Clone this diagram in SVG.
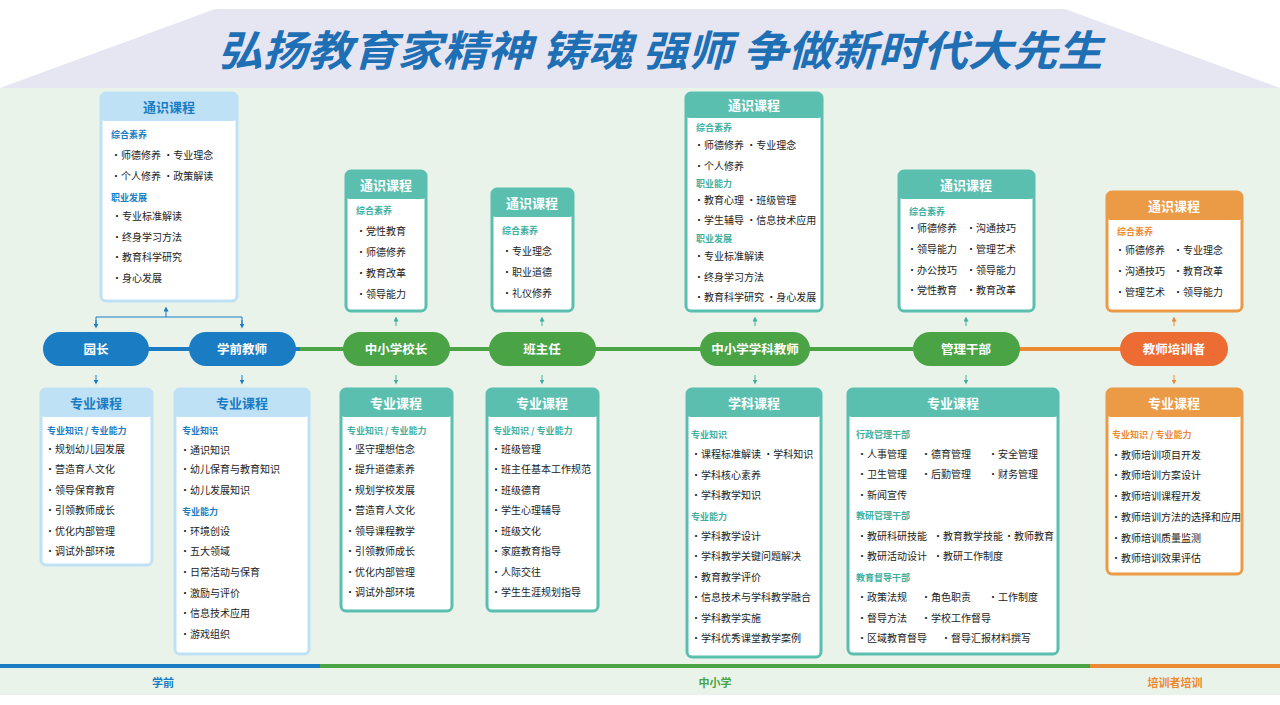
<svg xmlns="http://www.w3.org/2000/svg" width="1280" height="705" viewBox="0 0 1280 705">
<style>
text{font-family:"Noto Sans CJK SC","Noto Sans",sans-serif}
.t{font-size:10px;fill:#222}
.s{font-size:9px;font-weight:bold}
.h{font-size:13px;font-weight:bold;text-anchor:middle;fill:#fff}
.p{font-size:12.5px;font-weight:bold;text-anchor:middle;fill:#fff}
.b .s{fill:#1a7dc4}.g .s{fill:#3fb0a0}.o .s{fill:#ec8a33}
.b .h{fill:#1a7dc4}
.cb{stroke:#bfe1f5;fill:#fff;stroke-width:3}.hb{fill:#bfe1f5}
.cg{stroke:#5bbfb0;fill:#fff;stroke-width:3}.hg{fill:#5bbfb0}
.co{stroke:#eb9a45;fill:#fff;stroke-width:3}.ho{fill:#eb9a45}
.ar{stroke-width:1;fill:none}
</style>
<defs>
<marker id="mb" viewBox="0 0 6 6" refX="3" refY="3" markerWidth="5" markerHeight="5" orient="auto"><path d="M0,0L6,3L0,6z" fill="#1a7dc4"/></marker>
<marker id="mg" viewBox="0 0 6 6" refX="3" refY="3" markerWidth="5" markerHeight="5" orient="auto"><path d="M0,0L6,3L0,6z" fill="#3fb0a0"/></marker>
<marker id="mo" viewBox="0 0 6 6" refX="3" refY="3" markerWidth="5" markerHeight="5" orient="auto"><path d="M0,0L6,3L0,6z" fill="#ec8a33"/></marker>
</defs>
<rect width="1280" height="705" fill="#fff"/>
<rect y="88" width="1280" height="607" fill="#e9f3ea"/>
<path d="M0,88L215,9H1065L1280,88Z" fill="#e6e6f3"/>
<text x="660" y="66" font-size="42" font-weight="bold" font-style="italic" fill="#1f6fb5" text-anchor="middle" textLength="885" lengthAdjust="spacingAndGlyphs">弘扬教育家精神  铸魂 强师  争做新时代大先生</text>
<g id="bottom">
<rect x="0" y="664" width="320" height="4" fill="#1a7dc4"/>
<rect x="320" y="664" width="770" height="4" fill="#4aa345"/>
<rect x="1090" y="664" width="190" height="4" fill="#ec8a33"/>
<text x="163" y="687" font-size="11" font-weight="bold" fill="#1a7dc4" text-anchor="middle">学前</text>
<text x="715" y="687" font-size="11" font-weight="bold" fill="#4aa345" text-anchor="middle">中小学</text>
<text x="1175" y="687" font-size="11" font-weight="bold" fill="#ec8a33" text-anchor="middle">培训者培训</text>
</g>
<g id="connectors">
<line x1="96" y1="349" x2="300" y2="349" stroke="#1a7dc4" stroke-width="4"/>
<line x1="300" y1="349" x2="1020" y2="349" stroke="#4aa345" stroke-width="4"/>
<line x1="1020" y1="349" x2="1174" y2="349" stroke="#ec8a33" stroke-width="4"/>
<g class="ar" stroke="#1a7dc4">
<path d="M166,317V309" marker-end="url(#mb)"/>
<path d="M96,325V317H242V325" />
<path d="M96,320V326" marker-end="url(#mb)"/><path d="M242,320V326" marker-end="url(#mb)"/>
<path d="M96,375V382" marker-end="url(#mb)"/><path d="M242,375V382" marker-end="url(#mb)"/>
</g>
<g class="ar" stroke="#3fb0a0">
<path d="M396,326V319" marker-end="url(#mg)"/><path d="M542,326V319" marker-end="url(#mg)"/><path d="M755,326V319" marker-end="url(#mg)"/><path d="M966,326V319" marker-end="url(#mg)"/>
<path d="M396,375V382" marker-end="url(#mg)"/><path d="M542,375V382" marker-end="url(#mg)"/><path d="M755,375V382" marker-end="url(#mg)"/><path d="M966,375V382" marker-end="url(#mg)"/>
</g>
<g class="ar" stroke="#ec8a33">
<path d="M1174,326V319" marker-end="url(#mo)"/><path d="M1174,375V382" marker-end="url(#mo)"/>
</g>
</g>
<g id="pills">
<g id="n-yz"><rect x="43" y="332" width="106" height="34" rx="17" fill="#1a7dc4"/><text class="p" x="96" y="354">园长</text></g>
<g id="n-xq"><rect x="189" y="332" width="107" height="34" rx="17" fill="#1a7dc4"/><text class="p" x="242" y="354">学前教师</text></g>
<g id="n-xz"><rect x="343" y="332" width="107" height="34" rx="17" fill="#4aa345"/><text class="p" x="396" y="354">中小学校长</text></g>
<g id="n-bzr"><rect x="489" y="332" width="107" height="34" rx="17" fill="#4aa345"/><text class="p" x="542" y="354">班主任</text></g>
<g id="n-xk"><rect x="700" y="332" width="110" height="34" rx="17" fill="#4aa345"/><text class="p" x="755" y="354">中小学学科教师</text></g>
<g id="n-gl"><rect x="913" y="332" width="107" height="34" rx="17" fill="#4aa345"/><text class="p" x="966" y="354">管理干部</text></g>
<g id="n-px"><rect x="1120" y="332" width="108" height="34" rx="17" fill="#ec6c33"/><text class="p" x="1174" y="354">教师培训者</text></g>
</g>
<g id="box1" class="b"><rect class="cb" x="101" y="93" width="136" height="208" rx="5"/><rect class="hb" x="101" y="93" width="136" height="28" rx="4"/>
<text class="h" x="169" y="112">通识课程</text>
<text class="s" x="111" y="138">综合素养</text>
<text class="t" x="111" y="159">•师德修养   •专业理念</text>
<text class="t" x="111" y="180">•个人修养   •政策解读</text>
<text class="s" x="111" y="201">职业发展</text>
<text class="t" x="112" y="220">•专业标准解读</text>
<text class="t" x="112" y="241">•终身学习方法</text>
<text class="t" x="112" y="261">•教育科学研究</text>
<text class="t" x="112" y="282">•身心发展</text></g>
<g id="box2" class="g"><rect class="cg" x="346" y="171" width="80" height="140" rx="5"/><rect class="hg" x="346" y="171" width="80" height="28" rx="4"/>
<text class="h" x="386" y="190">通识课程</text>
<text class="s" x="356" y="214">综合素养</text>
<text class="t" x="356" y="235">•党性教育</text><text class="t" x="356" y="256">•师德修养</text><text class="t" x="356" y="277">•教育改革</text><text class="t" x="356" y="298">•领导能力</text></g>
<g id="box3" class="g"><rect class="cg" x="492" y="189" width="81" height="122" rx="5"/><rect class="hg" x="492" y="189" width="81" height="28" rx="4"/>
<text class="h" x="532" y="208">通识课程</text>
<text class="s" x="502" y="234">综合素养</text>
<text class="t" x="502" y="255">•专业理念</text><text class="t" x="502" y="276">•职业道德</text><text class="t" x="502" y="297">•礼仪修养</text></g>
<g id="box4" class="g"><rect class="cg" x="686" y="93" width="136" height="218" rx="5"/><rect class="hg" x="686" y="93" width="136" height="25" rx="4"/>
<text class="h" x="754" y="110">通识课程</text>
<text class="s" x="696" y="131">综合素养</text>
<text class="t" x="694" y="149">•师德修养    •专业理念</text>
<text class="t" x="694" y="170">•个人修养</text>
<text class="s" x="696" y="187">职业能力</text>
<text class="t" x="694" y="204">•教育心理    •班级管理</text>
<text class="t" x="694" y="224">•学生辅导    •信息技术应用</text>
<text class="s" x="696" y="242">职业发展</text>
<text class="t" x="694" y="260">•专业标准解读</text>
<text class="t" x="694" y="281">•终身学习方法</text>
<text class="t" x="694" y="301">•教育科学研究    •身心发展</text></g>
<g id="box5" class="g"><rect class="cg" x="899" y="171" width="135" height="140" rx="5"/><rect class="hg" x="899" y="171" width="135" height="28" rx="4"/>
<text class="h" x="966" y="190">通识课程</text>
<text class="s" x="909" y="215">综合素养</text>
<text class="t" x="907" y="232">•师德修养</text><text class="t" x="966" y="232">•沟通技巧</text>
<text class="t" x="907" y="253">•领导能力</text><text class="t" x="966" y="253">•管理艺术</text>
<text class="t" x="907" y="274">•办公技巧</text><text class="t" x="966" y="274">•领导能力</text>
<text class="t" x="907" y="294">•党性教育</text><text class="t" x="966" y="294">•教育改革</text></g>
<g id="box6" class="o"><rect class="co" x="1107" y="192" width="135" height="119" rx="5"/><rect class="ho" x="1107" y="192" width="135" height="28" rx="4"/>
<text class="h" x="1174" y="211">通识课程</text>
<text class="s" x="1117" y="235">综合素养</text>
<text class="t" x="1115" y="254">•师德修养</text><text class="t" x="1173" y="254">•专业理念</text>
<text class="t" x="1115" y="275">•沟通技巧</text><text class="t" x="1173" y="275">•教育改革</text>
<text class="t" x="1115" y="296">•管理艺术</text><text class="t" x="1173" y="296">•领导能力</text></g>
<g id="box7" class="b"><rect class="cb" x="41" y="389" width="111" height="176" rx="5"/><rect class="hb" x="41" y="389" width="111" height="28" rx="4"/>
<text class="h" x="96" y="408">专业课程</text>
<text class="s" x="47" y="434">专业知识 / 专业能力</text>
<text class="t" x="45" y="453">•规划幼儿园发展</text><text class="t" x="45" y="473">•营造育人文化</text><text class="t" x="45" y="494">•领导保育教育</text><text class="t" x="45" y="514">•引领教师成长</text><text class="t" x="45" y="535">•优化内部管理</text><text class="t" x="45" y="555">•调试外部环境</text></g>
<g id="box8" class="b"><rect class="cb" x="175" y="389" width="134" height="265" rx="5"/><rect class="hb" x="175" y="389" width="134" height="28" rx="4"/>
<text class="h" x="242" y="408">专业课程</text>
<text class="s" x="182" y="434">专业知识</text>
<text class="t" x="180" y="454">•通识知识</text><text class="t" x="180" y="473">•幼儿保育与教育知识</text><text class="t" x="180" y="494">•幼儿发展知识</text>
<text class="s" x="182" y="515">专业能力</text>
<text class="t" x="180" y="535">•环境创设</text><text class="t" x="180" y="555">•五大领域</text><text class="t" x="180" y="576">•日常活动与保育</text><text class="t" x="180" y="597">•激励与评价</text><text class="t" x="180" y="617">•信息技术应用</text><text class="t" x="180" y="638">•游戏组织</text></g>
<g id="box9" class="g"><rect class="cg" x="341" y="389" width="111" height="222" rx="5"/><rect class="hg" x="341" y="389" width="111" height="28" rx="4"/>
<text class="h" x="396" y="408">专业课程</text>
<text class="s" x="347" y="434">专业知识 / 专业能力</text>
<text class="t" x="345" y="453">•坚守理想信念</text><text class="t" x="345" y="473">•提升道德素养</text><text class="t" x="345" y="494">•规划学校发展</text><text class="t" x="345" y="514">•营造育人文化</text><text class="t" x="345" y="535">•领导课程教学</text><text class="t" x="345" y="555">•引领教师成长</text><text class="t" x="345" y="576">•优化内部管理</text><text class="t" x="345" y="596">•调试外部环境</text></g>
<g id="box10" class="g"><rect class="cg" x="487" y="389" width="111" height="222" rx="5"/><rect class="hg" x="487" y="389" width="111" height="28" rx="4"/>
<text class="h" x="542" y="408">专业课程</text>
<text class="s" x="493" y="434">专业知识 / 专业能力</text>
<text class="t" x="491" y="453">•班级管理</text><text class="t" x="491" y="473">•班主任基本工作规范</text><text class="t" x="491" y="494">•班级德育</text><text class="t" x="491" y="514">•学生心理辅导</text><text class="t" x="491" y="535">•班级文化</text><text class="t" x="491" y="555">•家庭教育指导</text><text class="t" x="491" y="576">•人际交往</text><text class="t" x="491" y="596">•学生生涯规划指导</text></g>
<g id="box11" class="g"><rect class="cg" x="687" y="389" width="134" height="268" rx="5"/><rect class="hg" x="687" y="389" width="134" height="28" rx="4"/>
<text class="h" x="754" y="408">学科课程</text>
<text class="s" x="691" y="438">专业知识</text>
<text class="t" x="691" y="458">•课程标准解读    •学科知识</text><text class="t" x="691" y="479">•学科核心素养</text><text class="t" x="691" y="499">•学科教学知识</text>
<text class="s" x="691" y="520">专业能力</text>
<text class="t" x="691" y="540">•学科教学设计</text><text class="t" x="691" y="560">•学科教学关键问题解决</text><text class="t" x="691" y="581">•教育教学评价</text><text class="t" x="691" y="601">•信息技术与学科教学融合</text><text class="t" x="691" y="622">•学科教学实施</text><text class="t" x="691" y="642">•学科优秀课堂教学案例</text></g>
<g id="box12" class="g"><rect class="cg" x="848" y="389" width="210" height="265" rx="5"/><rect class="hg" x="848" y="389" width="210" height="28" rx="4"/>
<text class="h" x="953" y="408">专业课程</text>
<text class="s" x="856" y="438">行政管理干部</text>
<text class="t" x="857" y="458">•人事管理</text><text class="t" x="921" y="458">•德育管理</text><text class="t" x="988" y="458">•安全管理</text>
<text class="t" x="857" y="478">•卫生管理</text><text class="t" x="921" y="478">•后勤管理</text><text class="t" x="988" y="478">•财务管理</text>
<text class="t" x="857" y="499">•新闻宣传</text>
<text class="s" x="856" y="519">教研管理干部</text>
<text class="t" x="857" y="540">•教研科研技能</text><text class="t" x="933" y="540">•教育教学技能</text><text class="t" x="1004" y="540">•教师教育</text>
<text class="t" x="857" y="560">•教研活动设计</text><text class="t" x="933" y="560">•教研工作制度</text>
<text class="s" x="856" y="581">教育督导干部</text>
<text class="t" x="857" y="601">•政策法规</text><text class="t" x="921" y="601">•角色职责</text><text class="t" x="988" y="601">•工作制度</text>
<text class="t" x="857" y="622">•督导方法</text><text class="t" x="921" y="622">•学校工作督导</text>
<text class="t" x="857" y="642">•区域教育督导</text><text class="t" x="941" y="642">•督导汇报材料撰写</text></g>
<g id="box13" class="o"><rect class="co" x="1107" y="389" width="135" height="185" rx="5"/><rect class="ho" x="1107" y="389" width="135" height="28" rx="4"/>
<text class="h" x="1174" y="408">专业课程</text>
<text class="s" x="1112" y="438">专业知识 / 专业能力</text>
<text class="t" x="1111" y="459">•教师培训项目开发</text><text class="t" x="1111" y="479">•教师培训方案设计</text><text class="t" x="1111" y="500">•教师培训课程开发</text><text class="t" x="1111" y="521">•教师培训方法的选择和应用</text><text class="t" x="1111" y="542">•教师培训质量监测</text><text class="t" x="1111" y="562">•教师培训效果评估</text></g>
</svg>
